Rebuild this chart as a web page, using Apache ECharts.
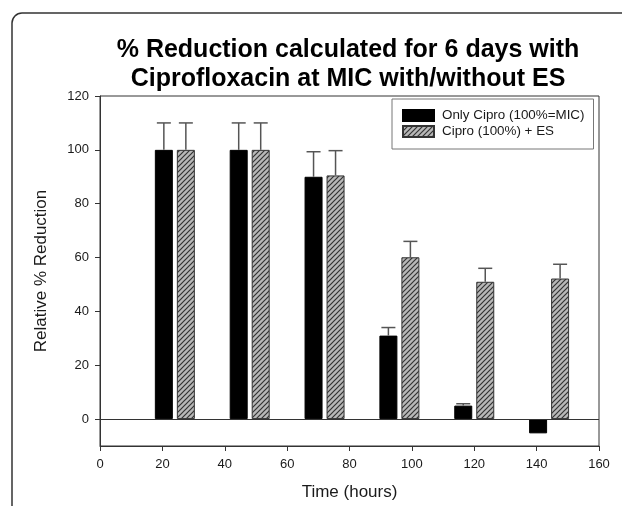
<!DOCTYPE html>
<html>
<head>
<meta charset="utf-8">
<script src="https://cdn.jsdelivr.net/npm/echarts@6/dist/echarts.min.js"></script>
<style>
html, body { margin: 0; background: #fff; }
#chart { width: 622px; height: 506px; }
</style>
</head>
<body>
<div id="chart"></div>
<script>
// data
const hours = [24, 48, 72, 96, 120, 144];
const onlyCipro = [100, 100, 90, 31, 5, -5.3];
const onlyCiproErr = [10, 10, 9.3, 3, 0.7, 0];
const ciproES = [100, 100, 90.5, 60.1, 51, 52.2];
const ciproESErr = [10, 10, 9.2, 5.9, 5, 5.3];
const yTicks = [0, 20, 40, 60, 80, 100, 120];

const barW = 18;
const gapPx = 4;

function hatchPattern() {
    let c = document.createElement('canvas');
    c.width = 5;
    c.height = 5;
    let g = c.getContext('2d');
    g.fillStyle = '#b8b8b8';
    g.fillRect(0, 0, 5, 5);
    g.strokeStyle = '#333';
    g.lineWidth = 1.2;
    g.beginPath();
    g.moveTo(0, 5); g.lineTo(5, 0);
    g.moveTo(-1, 1); g.lineTo(1, -1);
    g.moveTo(4, 6); g.lineTo(6, 4);
    g.stroke();
    return c;
}

function errSeries(vals, errs, offset) {
    return {
        type: 'custom',
        z: 5,
        silent: true,
        data: hours.map((h, i) => [h, vals[i], errs[i]]),
        renderItem(params, api) {
            let x = api.value(0), y = api.value(1), e = api.value(2);
            if (!e) return;
            let p0 = api.coord([x, y]);
            let p1 = api.coord([x, y + e]);
            let cx = p0[0] + offset;
            let st = { stroke: '#555', lineWidth: 1.5 };
            return {
                type: 'group',
                children: [
                    { type: 'line', shape: { x1: cx, y1: p0[1], x2: cx, y2: p1[1] }, style: st },
                    { type: 'line', shape: { x1: cx - 7, y1: p1[1], x2: cx + 7, y2: p1[1] }, style: st }
                ]
            };
        }
    };
}

let chart = echarts.init(document.getElementById('chart'));
const txt = '#1a1a1a';
const off = (barW + gapPx) / 2;

let option = {
    animation: false,
    title: {
        text: '% Reduction calculated for 6 days with\nCiprofloxacin at MIC with/without ES',
        left: 343,
        textAlign: 'center',
        top: 31,
        textStyle: {
            fontFamily: 'Liberation Sans',
            fontSize: 25,
            fontWeight: 'bold',
            lineHeight: 29,
            color: '#000'
        }
    },
    graphic: [{
        type: 'rect',
        shape: { x: 12, y: 13, width: 640, height: 520, r: 10 },
        style: { fill: 'none', stroke: '#333', lineWidth: 1.5 },
        silent: true
    }],
    legend: {
        orient: 'vertical',
        left: 392,
        top: 99,
        data: ['Only Cipro (100%=MIC)', 'Cipro (100%) + ES'],
        backgroundColor: '#fff',
        borderColor: '#777',
        borderWidth: 1,
        padding: [10, 9, 11, 10],
        itemWidth: 31,
        itemHeight: 11,
        itemGap: 3,
        icon: 'rect',
        textStyle: { fontFamily: 'Liberation Sans', fontSize: 13.4, color: txt, padding: [0, 0, 0, 3] }
    },
    grid: {
        left: 100,
        right: 23,
        top: 96,
        bottom: 60,
        show: true,
        borderColor: '#333',
        borderWidth: 1
    },
    xAxis: {
        type: 'value',
        min: 0,
        max: 160,
        interval: 20,
        name: 'Time (hours)',
        nameLocation: 'middle',
        nameGap: 38,
        nameTextStyle: { fontFamily: 'Liberation Sans', fontSize: 17, color: txt },
        splitLine: { show: false },
        axisLine: { show: true, onZero: false, lineStyle: { color: '#333' } },
        axisTick: { show: true, length: 5, lineStyle: { color: '#333' } },
        axisLabel: { fontFamily: 'Liberation Sans', fontSize: 13, color: txt, margin: 12 }
    },
    yAxis: {
        type: 'value',
        min: -10,
        max: 120,
        name: 'Relative % Reduction',
        nameLocation: 'middle',
        nameGap: 50,
        nameTextStyle: { fontFamily: 'Liberation Sans', fontSize: 17, color: txt },
        splitLine: { show: false },
        axisLine: { show: true, lineStyle: { color: '#333' } },
        axisTick: { show: true, length: 5, customValues: yTicks, lineStyle: { color: '#333' } },
        axisLabel: { fontFamily: 'Liberation Sans', fontSize: 13, color: txt, margin: 11, customValues: yTicks }
    },
    series: [
        {
            name: 'Only Cipro (100%=MIC)',
            type: 'bar',
            barWidth: barW,
            barGap: (gapPx / barW * 100) + '%',
            itemStyle: { color: '#000', borderColor: '#000', borderWidth: 1 },
            data: hours.map((h, i) => [h, onlyCipro[i]]),
            markLine: {
                silent: true,
                symbol: 'none',
                label: { show: false },
                lineStyle: { color: '#333', type: 'solid', width: 1 },
                data: [{ yAxis: 0 }]
            }
        },
        {
            name: 'Cipro (100%) + ES',
            type: 'bar',
            barWidth: barW,
            barGap: (gapPx / barW * 100) + '%',
            itemStyle: { color: { image: hatchPattern(), repeat: 'repeat' }, borderColor: '#333', borderWidth: 1 },
            data: hours.map((h, i) => [h, ciproES[i]])
        },
        errSeries(onlyCipro, onlyCiproErr, -off),
        errSeries(ciproES, ciproESErr, off)
    ]
};
chart.setOption(option);
window.addEventListener('resize', () => {
    chart.resize();
});
</script>
</body>
</html>
